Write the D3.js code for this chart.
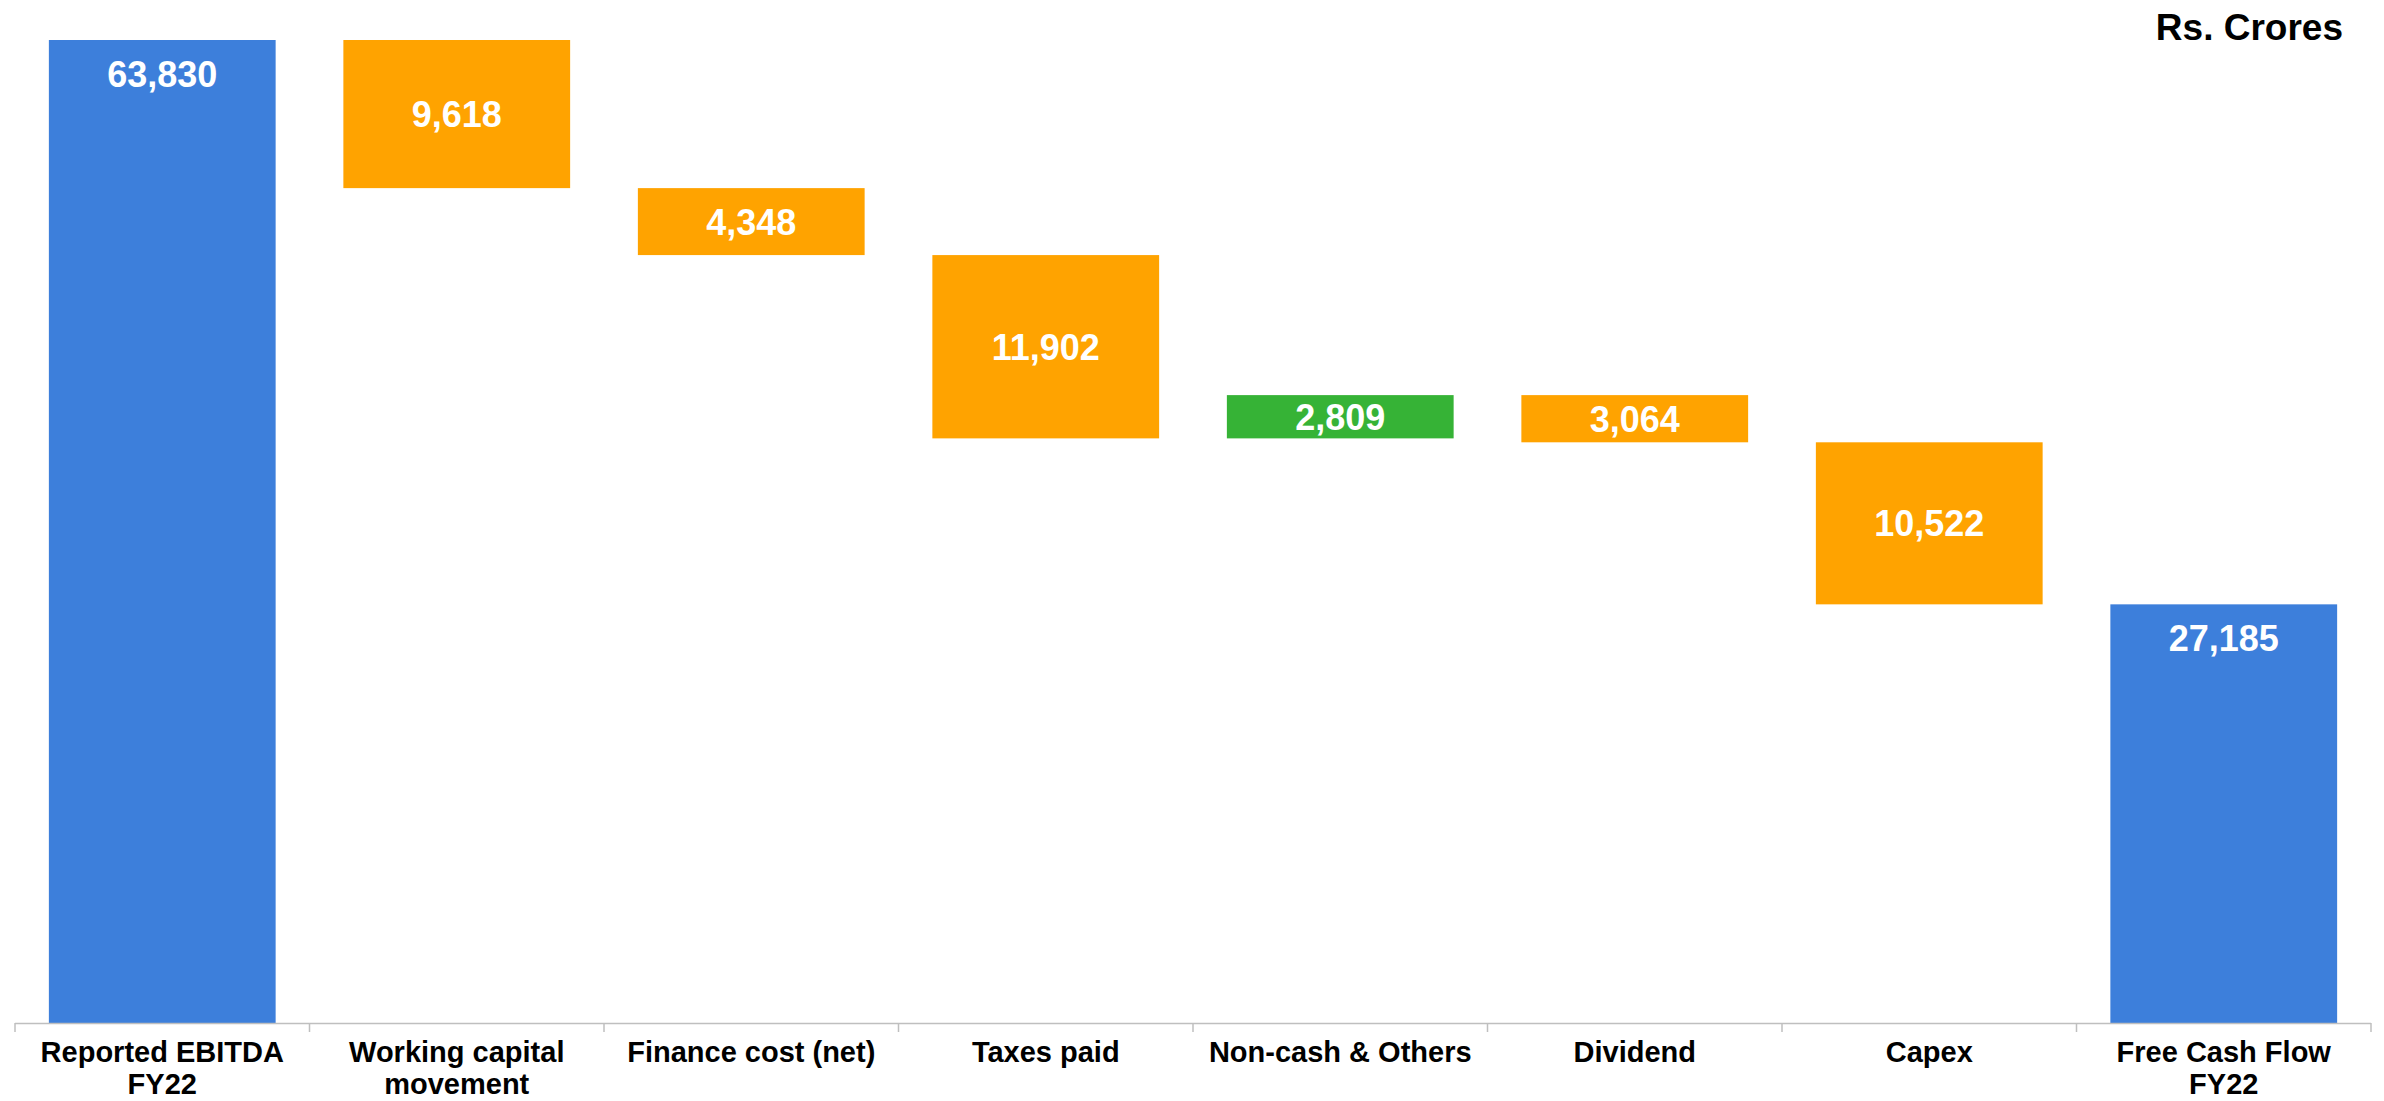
<!DOCTYPE html>
<html lang="en">
  <head>
    <meta charset="UTF-8" />
    <title>Free Cash Flow FY22</title>
    <script src="https://d3js.org/d3.v7.min.js"></script>
    <style>
      body { margin: 0; background: #fff; }
      text { font-family: "Liberation Sans", Arial, sans-serif; font-weight: bold; }
    </style>
  </head>
  <body>
    <script>
      // waterfall data (Rs. Crores)
      var categories = [
        ["Reported EBITDA", "FY22"],
        ["Working capital", "movement"],
        ["Finance cost (net)"],
        ["Taxes paid"],
        ["Non-cash & Others"],
        ["Dividend"],
        ["Capex"],
        ["Free Cash Flow", "FY22"],
      ];
      var values = [63830, -9618, -4348, -11902, 2809, -3064, -10522, 27185];
      var kinds = ["total", "step", "step", "step", "step", "step", "step", "total"];
      var labels = ["63,830", "9,618", "4,348", "11,902", "2,809", "3,064", "10,522", "27,185"];

      var width = 2384, height = 1101;
      var svg = d3.select("body").append("svg").attr("width", width).attr("height", height);

      // build start/end for every bar
      var run = 0;
      var bars = values.map(function (v, i) {
        var d = { i: i, kind: kinds[i], value: v };
        if (kinds[i] === "total") {
          d.y0 = 0; d.y1 = v; run = v;
        } else {
          d.y0 = run; d.y1 = run + v; run = run + v;
        }
        return d;
      });

      var x = d3.scaleBand().domain(d3.range(categories.length)).range([15, 2371]);
      var y = d3.scaleLinear().domain([0, 63830]).range([1023, 40]);
      var barW = x.bandwidth() * 0.77;

      function color(d) {
        if (d.kind === "total") return "#3d7fdb";
        return d.value > 0 ? "#36b336" : "#ffa300";
      }

      svg.selectAll(".bar")
        .data(bars)
        .enter()
        .append("rect")
        .attr("class", "bar")
        .attr("x", function (d) { return x(d.i) + (x.bandwidth() - barW) / 2; })
        .attr("width", barW)
        .attr("y", function (d) { return y(Math.max(d.y0, d.y1)); })
        .attr("height", function (d) { return Math.abs(y(d.y0) - y(d.y1)); })
        .attr("fill", color);

      // value labels
      svg.selectAll(".val")
        .data(bars)
        .enter()
        .append("text")
        .attr("class", "val")
        .attr("x", function (d) { return x(d.i) + x.bandwidth() / 2; })
        .attr("y", function (d) {
          var top = y(Math.max(d.y0, d.y1));
          if (d.kind === "total") return top + 47;
          return (y(d.y0) + y(d.y1)) / 2;
        })
        .attr("dy", function (d) { return d.kind === "total" ? 0 : "0.36em"; })
        .attr("text-anchor", "middle")
        .attr("fill", "#fff")
        .style("font-size", "36px")
        .text(function (d) { return labels[d.i]; });

      // category axis with ticks at band edges
      var axis = svg.append("g");
      axis.append("line")
        .attr("x1", 15).attr("x2", 2371)
        .attr("y1", 1023.5).attr("y2", 1023.5)
        .attr("stroke", "#bfbfbf").attr("stroke-width", 1.5);
      var edges = d3.range(categories.length + 1).map(function (i) {
        return i < categories.length ? x(i) : x(i - 1) + x.bandwidth();
      });
      axis.selectAll(".tick")
        .data(edges)
        .enter()
        .append("line")
        .attr("x1", function (d) { return d; })
        .attr("x2", function (d) { return d; })
        .attr("y1", 1023).attr("y2", 1032)
        .attr("stroke", "#bfbfbf").attr("stroke-width", 1.5);

      var cat = svg.selectAll(".cat")
        .data(categories)
        .enter()
        .append("text")
        .attr("class", "cat")
        .attr("text-anchor", "middle")
        .attr("fill", "#000")
        .style("font-size", "29px");
      cat.selectAll("tspan")
        .data(function (d, i) { return d.map(function (s) { return { s: s, i: i }; }); })
        .enter()
        .append("tspan")
        .attr("x", function (d) { return x(d.i) + x.bandwidth() / 2; })
        .attr("y", function (d, j) { return 1062 + j * 32; })
        .text(function (d) { return d.s; });

      svg.append("text")
        .attr("x", 2343)
        .attr("y", 40)
        .attr("text-anchor", "end")
        .attr("fill", "#000")
        .style("font-size", "37px")
        .text("Rs. Crores");
    </script>
  </body>
</html>
